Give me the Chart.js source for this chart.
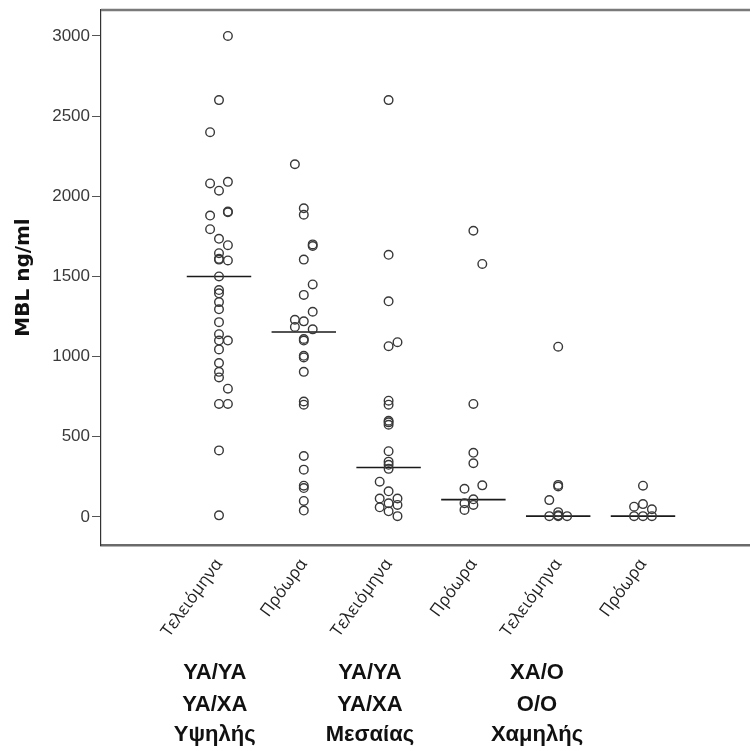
<!DOCTYPE html>
<html>
<head>
<meta charset="utf-8">
<script src="https://cdn.jsdelivr.net/npm/chart.js@4/dist/chart.umd.min.js"></script>
<style>
  html, body { margin: 0; padding: 0; background: #fff; }
  #wrap { width: 750px; height: 751px; position: relative; }
</style>
</head>
<body>
<div id="wrap"><canvas id="c" width="750" height="751"></canvas></div>
<script>
// ---- Data ----
const categories = ['Τελειόμηνα', 'Πρόωρα', 'Τελειόμηνα', 'Πρόωρα', 'Τελειόμηνα', 'Πρόωρα'];
const groupLabels = [
  ['ΥΑ/ΥΑ', 'ΥΑ/ΧΑ', 'Υψηλής'],
  ['ΥΑ/ΥΑ', 'ΥΑ/ΧΑ', 'Μεσαίας'],
  ['ΧΑ/Ο', 'Ο/Ο', 'Χαμηλής']
];
const yTicks = [0, 500, 1000, 1500, 2000, 2500, 3000];

// MBL values (ng/ml) per column, with jitter lane (-1, 0, +1) as in the dot plot
const high_term = [3000, 2600, 2400, 2080, 2090, 2035, 1900, 1905, 1880, 1795, 1735, 1695, 1645, 1605, 1610, 1600, 1500, 1415, 1395, 1340, 1295, 1215, 1140, 1100, 1100, 1045, 960, 905, 870, 800, 705, 705, 415, 10];
const high_term_lane = [1, 0, -1, -1, 1, 0, 1, 1, -1, -1, 0, 1, 0, 0, 0, 1, 0, 0, 0, 0, 0, 0, 0, 0, 1, 0, 0, 0, 0, 1, 0, 1, 0, 0];
const high_pre = [2200, 1925, 1885, 1700, 1690, 1605, 1450, 1385, 1280, 1230, 1220, 1185, 1170, 1110, 1100, 1005, 995, 905, 720, 700, 380, 295, 195, 180, 100, 40];
const high_pre_lane = [-1, 0, 0, 1, 1, 0, 1, 0, 1, -1, 0, -1, 1, 0, 0, 0, 0, 0, 0, 0, 0, 0, 0, 0, 0, 0];
const mid_term = [2600, 1635, 1345, 1090, 1065, 725, 700, 600, 590, 575, 410, 345, 325, 300, 220, 160, 115, 115, 85, 75, 60, 35, 5];
const mid_term_lane = [0, 0, 0, 1, 0, 0, 0, 0, 0, 0, 0, 0, 0, 0, -1, 0, -1, 1, 0, 1, -1, 0, 1];
const mid_pre = [1785, 1578, 705, 400, 335, 197, 176, 110, 85, 75, 44];
const mid_pre_lane = [0, 1, 0, 0, 0, 1, -1, 0, -1, 0, -1];
const low_term = [1062, 200, 190, 105, 30, 5, 5, 5, 10];
const low_term_lane = [0, 0, 0, -1, 0, -1, 0, 1, 0];
const low_pre = [195, 80, 64, 48, 5, 5, 5];
const low_pre_lane = [0, 0, -1, 1, -1, 0, 1];
const medians = [1500, 1154, 308, 108, 5, 5];

// ---- Build datasets ----
const LANE = 0.105;     // horizontal jitter step (category units)
const HALF = 0.38;      // half-width of median line
const cols = [
  [high_term, high_term_lane], [high_pre, high_pre_lane],
  [mid_term, mid_term_lane], [mid_pre, mid_pre_lane],
  [low_term, low_term_lane], [low_pre, low_pre_lane]
];
const datasets = [];
cols.forEach(([vals, lanes], i) => {
  datasets.push({
    type: 'scatter',
    data: vals.map((v, j) => ({ x: i + 1 + lanes[j] * LANE, y: v })),
    pointRadius: 4.3,
    pointHoverRadius: 4.3,
    pointBorderWidth: 1.4,
    borderColor: '#383838',
    backgroundColor: 'rgba(0,0,0,0)',
    pointStyle: 'circle'
  });
});
medians.forEach((m, i) => {
  datasets.push({
    type: 'line',
    data: [{ x: i + 1 - HALF, y: m }, { x: i + 1 + HALF, y: m }],
    borderColor: '#1a1a1a',
    borderWidth: 1.6,
    pointRadius: 0,
    fill: false
  });
});

const frame = {
  id: 'frame',
  afterDraw(chart) {
    const { ctx, chartArea } = chart;
    ctx.save();
    ctx.strokeStyle = '#7a7a7a';
    ctx.lineWidth = 2.5;
    ctx.beginPath();
    ctx.moveTo(chartArea.left, chartArea.top);
    ctx.lineTo(chart.width, chartArea.top);
    ctx.stroke();
    // group labels under the axis
    const xs = chart.scales.x;
    const centers = [0.95, 2.78, 4.75];
    const baselines = [679, 711, 741];
    ctx.fillStyle = '#111';
    ctx.font = 'bold 22px "Liberation Sans", Arial, sans-serif';
    ctx.textAlign = 'center';
    ctx.textBaseline = 'alphabetic';
    groupLabels.forEach((lines, g) => {
      const px = xs.getPixelForValue(centers[g]);
      lines.forEach((t, k) => ctx.fillText(t, px, baselines[k]));
    });
    ctx.restore();
  }
};

const bgPlugin = {
  id: 'bg',
  beforeDraw(chart) {
    const ctx = chart.ctx;
    ctx.save();
    ctx.fillStyle = '#fff';
    ctx.fillRect(0, 0, chart.width, chart.height);
    ctx.restore();
  }
};

new Chart(document.getElementById('c'), {
  type: 'scatter',
  data: { datasets },
  options: {
    responsive: false,
    animation: false,
    layout: { autoPadding: false, padding: { top: 10, right: 0, left: 0, bottom: 0 } },
    plugins: { legend: { display: false }, tooltip: { enabled: false } },
    scales: {
      x: {
        type: 'linear',
        min: -0.3915,
        max: 7.262,
        afterBuildTicks(scale) { scale.ticks = categories.map((c, i) => ({ value: i + 1 })); },
        afterFit(scale) { scale.height = 206; scale.paddingLeft = 0; scale.paddingRight = 0; },
        ticks: {
          autoSkip: false,
          minRotation: 54,
          maxRotation: 54,
          padding: 10,
          color: '#222',
          font: { family: '"Open Sans", "DejaVu Sans", sans-serif', size: 17 },
          callback: (v) => categories[Math.round(v) - 1] || ''
        },
        grid: { display: false, drawTicks: false },
        border: { display: true, color: '#6a6a6a', width: 2.5 }
      },
      y: {
        type: 'linear',
        min: -175,
        max: 3162,
        afterBuildTicks(scale) { scale.ticks = yTicks.map(v => ({ value: v })); },
        afterFit(scale) { scale.width = 101; scale.paddingTop = 0; scale.paddingBottom = 0; },
        ticks: {
          padding: 2,
          color: '#3a3a3a',
          font: { family: '"Liberation Sans", Arial, sans-serif', size: 17 },
          callback: (v) => String(v)
        },
        grid: { display: true, drawOnChartArea: false, drawTicks: true, tickLength: 9, color: '#555', lineWidth: 1 },
        border: { display: true, color: '#333', width: 1.2 },
        title: {
          display: true,
          text: 'MBL ng/ml',
          color: '#111',
          font: { family: '"DejaVu Sans", Verdana, sans-serif', size: 20, weight: 'bold' },
          padding: { top: 12, bottom: 0 }
        }
      }
    }
  },
  plugins: [bgPlugin, frame]
});
</script>
</body>
</html>
